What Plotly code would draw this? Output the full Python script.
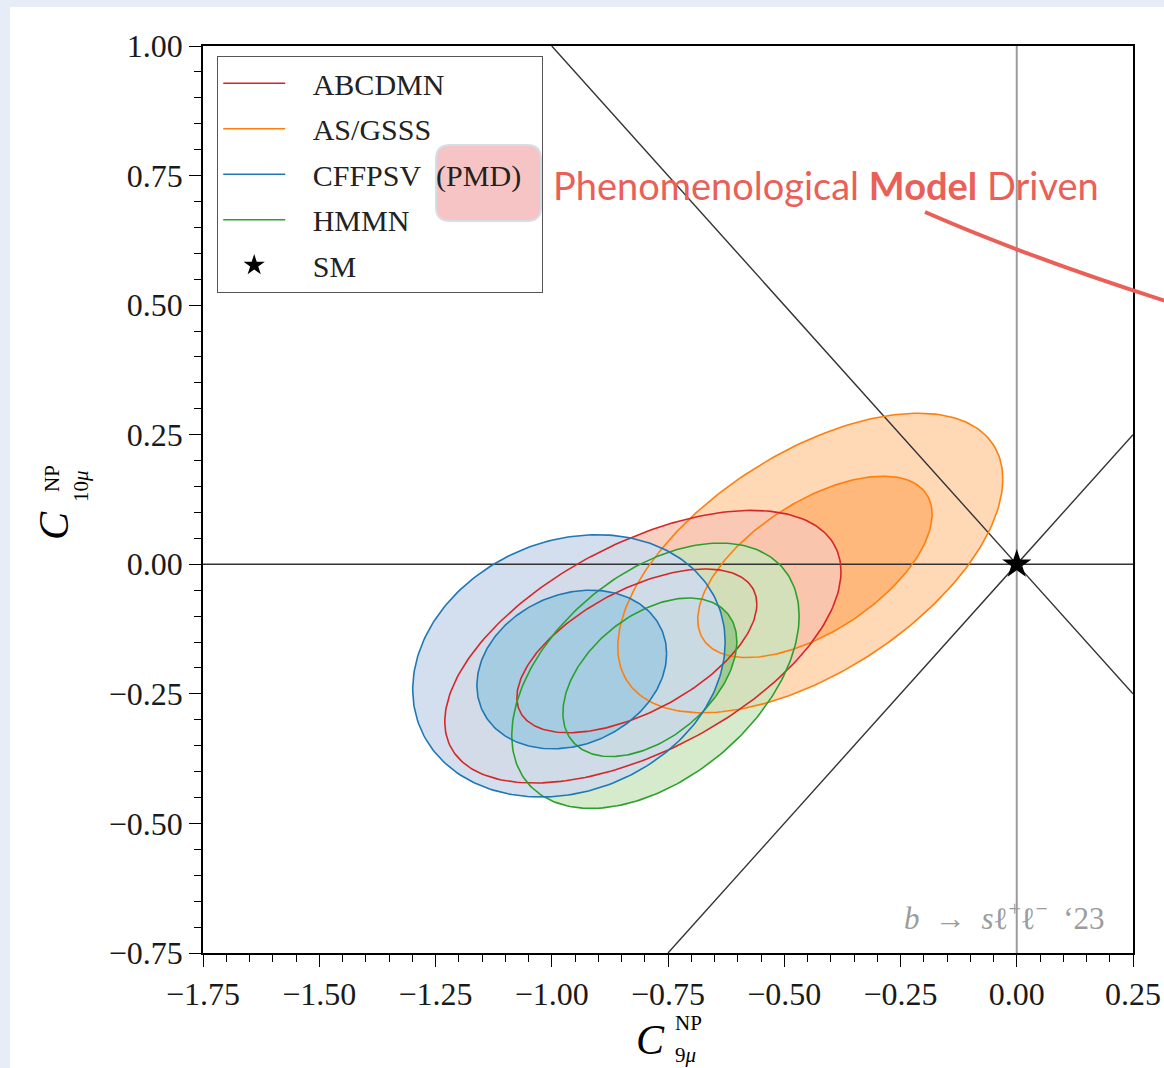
import numpy as np
import plotly.graph_objects as go

# ---------------- data ----------------
models = ["ABCDMN", "AS/GSSS", "CFFPSV\u2002(PMD)", "HMMN"]
line_colors = ["#d62728", "#ff7f0e", "#1f77b4", "#2ca02c"]
fill_outer = ["rgba(248,199,181,0.85)", "rgba(255,127,14,0.30)",
              "rgba(206,220,236,0.90)", "rgba(202,230,190,0.80)"]
fill_inner = ["rgba(214,39,40,0.08)", "rgba(255,127,14,0.35)",
              "rgba(161,202,224,0.90)", "rgba(44,160,44,0.30)"]
draw_order = [1, 0, 3, 2]          # orange, red, green, blue (bottom -> top)

# 1 sigma contours: centre, half extents, correlation
c9_centre_1s = [-0.817, -0.434, -0.957, -0.789]
c10_centre_1s = [-0.167, -0.005, -0.203, -0.218]
c9_half_1s = [0.258, 0.252, 0.204, 0.187]
c10_half_1s = [0.158, 0.175, 0.153, 0.153]
corr_1s = [0.57, 0.58, 0.20, 0.45]
# 2 sigma contours
c9_centre_2s = [-0.804, -0.444, -0.963, -0.777]
c10_centre_2s = [-0.159, 0.0025, -0.196, -0.215]
c9_half_2s = [0.426, 0.414, 0.336, 0.309]
c10_half_2s = [0.263, 0.289, 0.253, 0.256]
corr_2s = [0.55, 0.56, 0.18, 0.45]

sm_c9 = [0.0]
sm_c10 = [0.0]

x_range = [-1.75, 0.25]
y_range = [-0.75, 1.00]
x_tick_vals = [-1.75, -1.50, -1.25, -1.00, -0.75, -0.50, -0.25, 0.00, 0.25]
x_tick_text = ["−1.75", "−1.50", "−1.25", "−1.00", "−0.75", "−0.50", "−0.25", "0.00", "0.25"]
y_tick_vals = [-0.75, -0.50, -0.25, 0.00, 0.25, 0.50, 0.75, 1.00]
y_tick_text = ["−0.75", "−0.50", "−0.25", "0.00", "0.25", "0.50", "0.75", "1.00"]

# ---------------- geometry helpers ----------------
W, H = 1164, 1068
ML, MR, MT, MB = 203, 31, 46, 115
BG = "#e6edf7"


def pp(px, py):
    return (px - ML) / (W - ML - MR), (H - MB - py) / (H - MT - MB)


def contour(cx, cy, hx, hy, rho, n=240):
    t = np.linspace(0, 2 * np.pi, n)
    x = cx + hx * np.cos(t)
    y = cy + hy * (rho * np.cos(t) + np.sqrt(1 - rho ** 2) * np.sin(t))
    return x, y


SERIF = "Liberation Serif"
fig = go.Figure()

# filled regions
for i in draw_order:
    xo, yo = contour(c9_centre_2s[i], c10_centre_2s[i], c9_half_2s[i], c10_half_2s[i], corr_2s[i])
    xi, yi = contour(c9_centre_1s[i], c10_centre_1s[i], c9_half_1s[i], c10_half_1s[i], corr_1s[i])
    fig.add_trace(go.Scatter(x=xo, y=yo, mode="lines", fill="toself", fillcolor=fill_outer[i],
                             line=dict(width=0), showlegend=False, hoverinfo="skip"))
    fig.add_trace(go.Scatter(x=xi, y=yi, mode="lines", fill="toself", fillcolor=fill_inner[i],
                             line=dict(width=0), showlegend=False, hoverinfo="skip"))

# reference lines
fig.add_trace(go.Scatter(x=x_range, y=[0, 0], mode="lines", line=dict(color="#333", width=1.4),
                         showlegend=False, hoverinfo="skip"))
fig.add_trace(go.Scatter(x=[0, 0], y=y_range, mode="lines", line=dict(color="#9a9a9a", width=2),
                         showlegend=False, hoverinfo="skip"))
fig.add_trace(go.Scatter(x=[-1.0, 0.25], y=[1.0, -0.25], mode="lines", line=dict(color="#333", width=1.4),
                         showlegend=False, hoverinfo="skip"))
fig.add_trace(go.Scatter(x=[-0.75, 0.25], y=[-0.75, 0.25], mode="lines", line=dict(color="#333", width=1.4),
                         showlegend=False, hoverinfo="skip"))

# contour lines
PAD = "\u2002\u2005"
for i in draw_order:
    xo, yo = contour(c9_centre_2s[i], c10_centre_2s[i], c9_half_2s[i], c10_half_2s[i], corr_2s[i])
    xi, yi = contour(c9_centre_1s[i], c10_centre_1s[i], c9_half_1s[i], c10_half_1s[i], corr_1s[i])
    fig.add_trace(go.Scatter(x=xo, y=yo, mode="lines", line=dict(color=line_colors[i], width=1.6),
                             name=PAD + models[i] + "\u2002", legendgroup=models[i], legendrank=i + 1,
                             showlegend=True, hoverinfo="skip"))
    fig.add_trace(go.Scatter(x=xi, y=yi, mode="lines", line=dict(color=line_colors[i], width=1.6),
                             legendgroup=models[i], showlegend=False, hoverinfo="skip"))

# SM point
fig.add_trace(go.Scatter(x=sm_c9, y=sm_c10, mode="markers", name=PAD + "SM", legendgroup="SM", legendrank=5,
                         marker=dict(symbol="star", size=22, color="black"), hoverinfo="skip"))

shapes = []
# white figure sheet on bluish slide background
x0, y0 = pp(10, 7)
x1, y1 = pp(W + 5, H + 5)
shapes.append(dict(type="rect", xref="paper", yref="paper", x0=x0, y0=y1, x1=x1, y1=y0,
                   fillcolor="white", line=dict(width=0), layer="below"))
# pink rounded highlight behind (PMD)
bx0, by0 = pp(436, 221)
bx1, by1 = pp(541, 145)
rx, ry = 14 / (W - ML - MR), 14 / (H - MT - MB)
path = (f"M{bx0+rx},{by0} L{bx1-rx},{by0} Q{bx1},{by0} {bx1},{by0+ry} "
        f"L{bx1},{by1-ry} Q{bx1},{by1} {bx1-rx},{by1} L{bx0+rx},{by1} "
        f"Q{bx0},{by1} {bx0},{by1-ry} L{bx0},{by0+ry} Q{bx0},{by0} {bx0+rx},{by0} Z")
shapes.append(dict(type="path", xref="paper", yref="paper", path=path,
                   fillcolor="#f6c4c4", line=dict(color="#d6dde9", width=2), layer="above"))
# red pointer curve
a0 = pp(925, 212)
ac = pp(1030, 258)
a1 = pp(1175, 304)
shapes.append(dict(type="path", xref="paper", yref="paper",
                   path=f"M{a0[0]},{a0[1]} Q{ac[0]},{ac[1]} {a1[0]},{a1[1]}",
                   line=dict(color="#ea5f57", width=4), layer="above"))

ann = []
ax, ay = pp(551, 185)
ann.append(dict(x=ax, y=ay, xref="paper", yref="paper",
                text="Phenomenological <b>Model</b> Driven", showarrow=False,
                font=dict(family="Lato", size=38, color="#ea5f57"), xanchor="left", yanchor="middle"))
ax, ay = pp(1107, 916)
ann.append(dict(x=ax, y=ay, xref="paper", yref="paper",
                text="<i>b</i>\u2002→\u2002<i>s</i>ℓ<sup>+</sup>ℓ<sup>−</sup>\u2002‘23", showarrow=False,
                font=dict(family=SERIF, size=31, color="#9c9c9c"), xanchor="right", yanchor="middle"))
# x-axis title
ax, ay = pp(650, 1040)
ann.append(dict(x=ax, y=ay, xref="paper", yref="paper", text="<i>C</i>", showarrow=False,
                font=dict(family=SERIF, size=42, color="black"), xanchor="center", yanchor="middle"))
ax, ay = pp(673, 1023)
ann.append(dict(x=ax, y=ay, xref="paper", yref="paper", text="NP", showarrow=False,
                font=dict(family=SERIF, size=21, color="black"), xanchor="left", yanchor="middle"))
ax, ay = pp(673, 1055)
ann.append(dict(x=ax, y=ay, xref="paper", yref="paper", text="9<i>μ</i>", showarrow=False,
                font=dict(family=SERIF, size=21, color="black"), xanchor="left", yanchor="middle"))
# y-axis title (rotated)
ax, ay = pp(54, 526)
ann.append(dict(x=ax, y=ay, xref="paper", yref="paper", text="<i>C</i>", showarrow=False, textangle=-90,
                font=dict(family=SERIF, size=42, color="black"), xanchor="center", yanchor="middle"))
ax, ay = pp(52, 479)
ann.append(dict(x=ax, y=ay, xref="paper", yref="paper", text="NP", showarrow=False, textangle=-90,
                font=dict(family=SERIF, size=21, color="black"), xanchor="center", yanchor="middle"))
ax, ay = pp(81, 486)
ann.append(dict(x=ax, y=ay, xref="paper", yref="paper", text="10<i>μ</i>", showarrow=False, textangle=-90,
                font=dict(family=SERIF, size=21, color="black"), xanchor="center", yanchor="middle"))

axis_common = dict(showgrid=False, zeroline=False, showline=True, linecolor="black", linewidth=1.5,
                   mirror=True, ticks="outside", ticklen=12, tickwidth=1.3, tickcolor="black",
                   automargin=False,
                   tickfont=dict(family=SERIF, size=32, color="#1a1a1a"),
                   minor=dict(dtick=0.05, tick0=0, ticks="outside", ticklen=7, tickwidth=1, tickcolor="black"))

lx, ly = pp(217, 56)
fig.update_layout(
    width=W, height=H,
    margin=dict(l=ML, r=MR, t=MT, b=MB, autoexpand=False),
    paper_bgcolor=BG, plot_bgcolor="white",
    xaxis=dict(range=x_range, tickvals=x_tick_vals, ticktext=x_tick_text, **axis_common),
    yaxis=dict(range=y_range, tickvals=y_tick_vals, ticktext=y_tick_text, **axis_common),
    legend=dict(x=lx, y=ly, xanchor="left", yanchor="top", bgcolor="rgba(0,0,0,0)",
                bordercolor="#555", borderwidth=1.2, tracegroupgap=3.5, traceorder="grouped",
                itemwidth=62, font=dict(family=SERIF, size=30, color="#222")),
    shapes=shapes, annotations=ann, showlegend=True,
)

fig.write_html("out.html", config={"displayModeBar": False},
               post_script=f"document.body.style.margin='0';document.body.style.background='{BG}';")
